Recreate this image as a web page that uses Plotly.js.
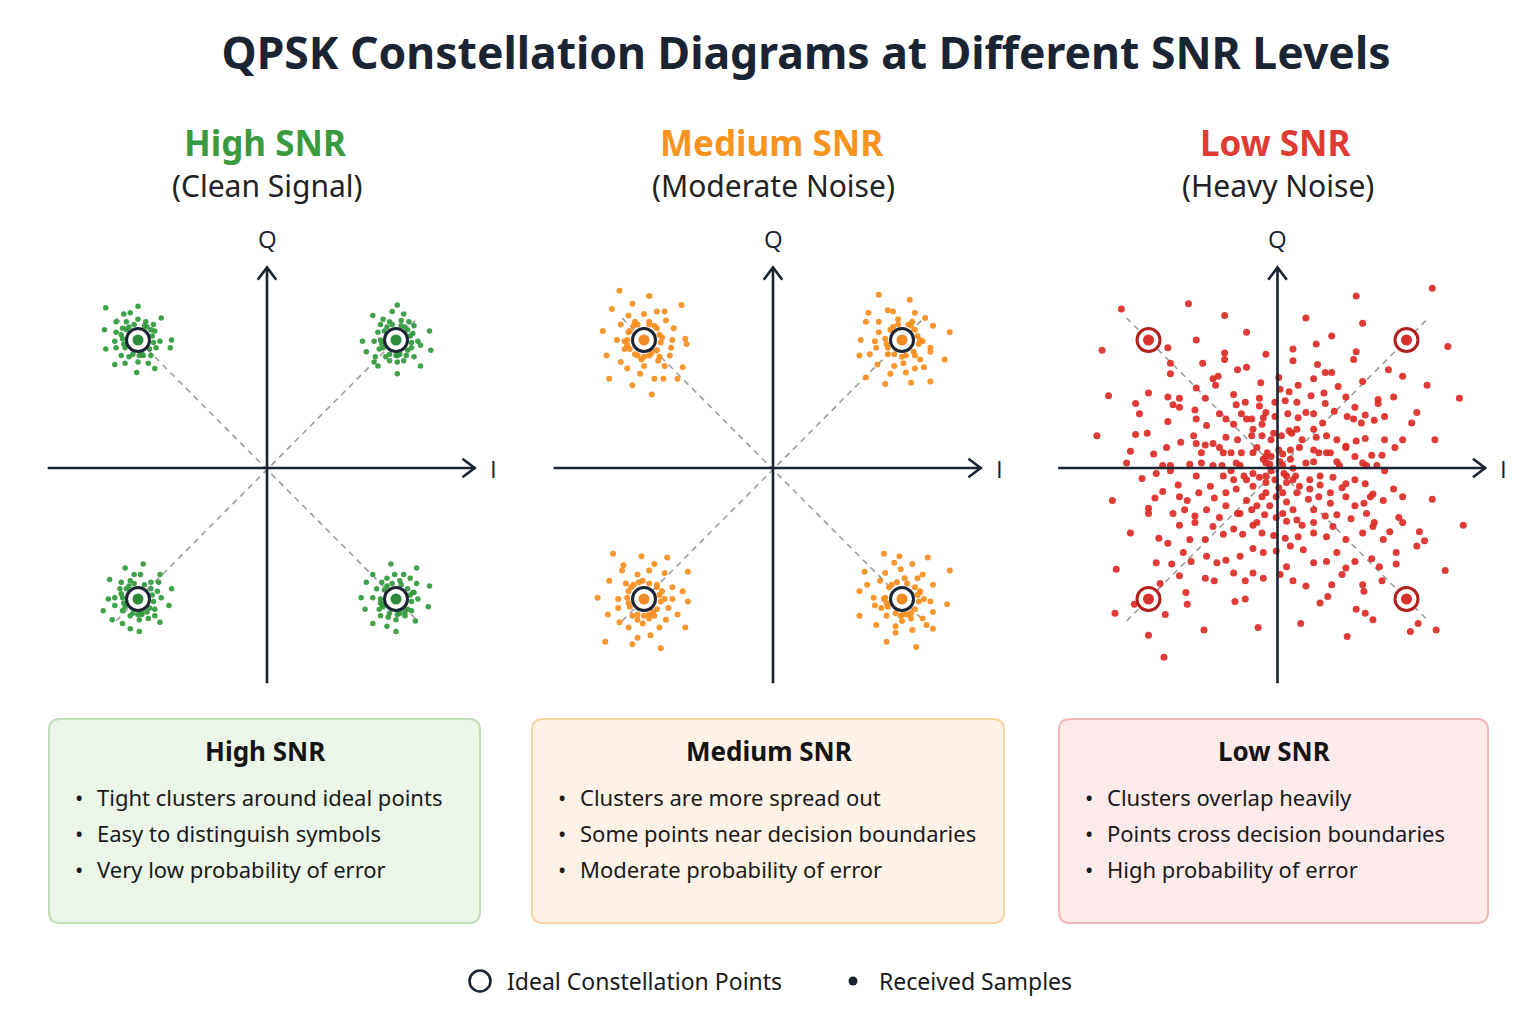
<!DOCTYPE html>
<html>
<head>
<meta charset="utf-8">
<script src="https://cdn.plot.ly/plotly-3.0.1.min.js"></script>
<style>html,body{margin:0;padding:0;background:#fff;}#chart{width:1536px;height:1024px;}</style>
</head>
<body>
<div id="chart"></div>
<script>
// ---------------- DATA ----------------
const idealI = [-1, 1, -1, 1];
const idealQ = [1, 1, -1, -1];

const panelTitles = ["High SNR", "Medium SNR", "Low SNR"];
const panelSubtitles = ["(Clean Signal)", "(Moderate Noise)", "(Heavy Noise)"];
const boxHeadings = ["High SNR", "Medium SNR", "Low SNR"];
const highNotes = ["Tight clusters around ideal points", "Easy to distinguish symbols", "Very low probability of error"];
const mediumNotes = ["Clusters are more spread out", "Some points near decision boundaries", "Moderate probability of error"];
const lowNotes = ["Clusters overlap heavily", "Points cross decision boundaries", "High probability of error"];
const legendLabels = ["Ideal Constellation Points", "Received Samples"];
const chartTitle = "QPSK Constellation Diagrams at Different SNR Levels";

// High SNR received samples (I, Q)
const highI = [
 -1.25,-1.00,-1.11,-1.06,-0.82,-1.17,-1.09,-1.00,-0.94,-0.88,-1.26,-1.17,-1.12,-0.87,-1.18,-0.83,-0.74,-1.25,-1.17,-0.86,-0.75,-1.13,-1.07,-0.96,-0.90,-1.18,-1.10,-1.00,-0.92,-1.01,-0.87,
 -0.89,-0.90,-0.95,-1.03,-1.09,-1.12,-1.10,-1.04,-0.97,-0.91,-0.88,-1.07,-0.93,-1.11,-0.99,-1.13,
 1.01,0.97,1.06,0.82,0.90,0.95,1.04,1.10,0.88,1.14,1.26,0.86,0.74,0.83,1.17,0.77,0.87,1.12,1.19,1.27,0.84,0.92,1.00,1.08,1.14,0.83,0.95,1.01,1.06,0.86,1.19,1.01,
 1.11,1.09,1.04,0.97,0.91,0.88,0.90,0.95,1.03,1.09,1.12,0.93,1.07,0.89,1.01,1.13,
 -0.96,-1.10,-1.03,-0.98,-0.83,-1.22,-1.13,-1.06,-0.90,-0.84,-1.14,-0.85,-0.74,-1.23,-1.18,-0.82,-1.18,-0.76,-1.27,-1.12,-0.87,-1.06,-0.97,-0.87,-1.20,-0.99,-0.92,-1.12,-0.83,-1.06,-0.99,
 -0.89,-0.90,-0.95,-1.03,-1.09,-1.12,-1.10,-1.04,-0.97,-0.91,-0.88,-1.07,-0.93,-1.11,-1.00,-1.13,
 0.96,1.16,0.82,0.99,1.06,0.93,1.11,0.77,0.89,1.03,1.16,1.26,0.85,1.14,0.73,0.82,1.17,0.88,0.76,0.87,1.25,1.12,0.88,0.94,1.00,1.07,1.15,0.82,0.93,1.00,
 1.11,1.09,1.04,0.97,0.91,0.88,0.90,0.95,1.03,1.09,1.12,0.93,1.07,0.89,1.01,1.13
];
const highQ = [
 1.25,1.26,1.20,1.21,1.17,1.14,1.14,1.16,1.14,1.12,1.08,1.06,1.09,1.07,0.99,0.99,1.00,0.93,0.94,0.94,0.94,0.88,0.87,0.88,0.88,0.81,0.82,0.83,0.82,0.75,0.78,
 1.03,1.08,1.11,1.12,1.08,1.01,0.94,0.89,0.89,0.93,0.98,1.10,1.10,0.97,0.88,1.04,
 1.27,1.22,1.20,1.19,1.16,1.14,1.15,1.14,1.12,1.11,1.07,1.06,0.99,0.99,0.99,0.91,0.93,0.94,0.96,0.92,0.87,0.87,0.88,0.88,0.87,0.83,0.84,0.83,0.84,0.80,0.80,0.74,
 1.03,1.08,1.11,1.12,1.07,1.00,0.94,0.89,0.89,0.92,0.98,1.10,1.10,0.97,0.88,1.05,
 -0.73,-0.76,-0.81,-0.81,-0.81,-0.85,-0.87,-0.86,-0.87,-0.87,-0.92,-0.94,-0.92,-1.00,-0.99,-0.99,-1.05,-1.05,-1.09,-1.09,-1.08,-1.13,-1.12,-1.13,-1.16,-1.16,-1.15,-1.19,-1.18,-1.23,-1.25,
 -0.97,-0.92,-0.89,-0.88,-0.92,-0.99,-1.06,-1.11,-1.11,-1.07,-1.02,-0.90,-1.10,-1.03,-1.12,-0.96,
 -0.73,-0.76,-0.81,-0.81,-0.81,-0.84,-0.84,-0.87,-0.87,-0.86,-0.88,-0.90,-0.92,-0.95,-0.99,-0.99,-1.00,-1.03,-1.08,-1.08,-1.06,-1.09,-1.13,-1.14,-1.16,-1.13,-1.17,-1.19,-1.21,-1.25,
 -0.97,-0.92,-0.89,-0.88,-0.93,-1.00,-1.06,-1.11,-1.11,-1.08,-1.02,-0.90,-1.10,-1.04,-1.12,-0.95
];

// Medium SNR received samples (I, Q)
const mediumI = [
 -1.19,-0.96,-0.71,-1.09,-1.25,-0.90,-0.84,-1.12,-1.00,-0.83,-1.07,-0.96,-1.18,-0.77,-1.32,-1.12,-0.68,-1.21,-0.78,-1.15,-0.67,-0.79,-1.15,-1.29,-1.07,-0.94,-0.88,-0.80,-1.18,-1.02,-0.89,-1.13,-1.00,-0.84,-0.70,-1.03,-0.92,-1.27,-0.85,-0.74,-1.09,-0.94,
 -0.88,-0.90,-0.96,-1.05,-1.11,-1.13,-1.11,-1.05,-0.96,-0.90,-0.87,-1.08,-0.92,-1.13,-1.00,-0.86,
 0.82,1.06,0.89,0.74,0.93,1.10,0.72,0.82,0.97,1.08,1.18,1.24,1.37,0.82,0.68,0.79,1.16,0.80,1.22,1.22,0.67,0.75,0.89,1.10,1.14,1.33,0.81,0.94,1.01,1.17,1.10,1.03,0.91,0.72,0.87,1.07,1.22,
 1.12,1.10,1.05,0.97,0.91,0.87,0.89,0.94,1.03,1.09,1.13,0.93,1.07,0.88,1.00,1.14,
 -1.24,-1.02,-0.82,-0.92,-1.16,-0.66,-1.17,-1.05,-0.96,-0.84,-1.27,-1.14,-1.01,-0.90,-0.78,-0.70,-1.36,-1.20,-1.12,-0.84,-0.78,-0.66,-1.20,-0.81,-1.28,-1.09,-0.92,-0.74,-1.19,-1.05,-0.96,-0.83,-1.12,-1.01,-0.88,-0.68,-0.95,-1.05,-1.30,-1.09,-0.87,
 -0.88,-0.90,-0.96,-1.04,-1.10,-1.13,-1.11,-1.05,-0.96,-0.90,-0.87,-1.08,-0.93,-1.12,-1.00,-0.86,
 0.86,0.98,1.20,0.94,1.08,1.37,0.71,0.87,0.99,1.16,0.83,1.02,1.12,1.24,0.73,0.67,1.14,0.78,0.86,1.17,1.22,1.35,0.79,0.84,1.24,0.67,0.88,1.01,1.07,1.16,0.80,0.95,1.08,1.19,1.24,0.95,0.88,1.11,1.00,
 1.12,1.10,1.04,0.96,0.90,0.87,0.89,0.95,1.04,1.10,1.13,0.92,1.07,0.88,0.99,1.14
];
const mediumQ = [
 1.38,1.34,1.27,1.28,1.24,1.22,1.22,1.19,1.20,1.15,1.14,1.14,1.12,1.09,1.07,1.06,1.01,1.00,1.00,0.99,0.97,0.94,0.93,0.88,0.89,0.90,0.87,0.88,0.83,0.85,0.84,0.78,0.80,0.80,0.79,0.74,0.70,0.70,0.70,0.70,0.65,0.58,
 1.04,1.09,1.12,1.12,1.07,1.00,0.93,0.88,0.88,0.92,0.98,1.11,1.11,0.96,0.87,1.02,
 1.35,1.31,1.23,1.21,1.22,1.21,1.14,1.14,1.16,1.14,1.17,1.11,1.06,1.06,1.00,0.99,0.99,0.94,0.94,0.91,0.88,0.89,0.89,0.88,0.85,0.85,0.81,0.80,0.82,0.79,0.78,0.75,0.74,0.71,0.66,0.67,0.68,
 1.03,1.08,1.12,1.12,1.08,1.01,0.94,0.89,0.88,0.91,0.97,1.10,1.11,0.97,0.87,1.00,
 -0.65,-0.67,-0.68,-0.73,-0.74,-0.79,-0.78,-0.81,-0.78,-0.80,-0.86,-0.88,-0.86,-0.89,-0.91,-0.94,-0.99,-1.00,-0.94,-1.00,-1.00,-1.02,-1.07,-1.07,-1.12,-1.13,-1.13,-1.12,-1.18,-1.16,-1.15,-1.16,-1.22,-1.19,-1.22,-1.22,-1.28,-1.30,-1.33,-1.35,-1.38,
 -0.97,-0.91,-0.88,-0.87,-0.91,-0.99,-1.06,-1.12,-1.12,-1.08,-1.02,-0.89,-1.10,-1.03,-1.13,-0.94,
 -0.65,-0.67,-0.68,-0.72,-0.73,-0.78,-0.79,-0.80,-0.77,-0.81,-0.86,-0.84,-0.84,-0.89,-0.89,-0.94,-0.94,-0.99,-1.00,-1.00,-1.02,-1.04,-1.05,-1.07,-1.10,-1.13,-1.13,-1.12,-1.15,-1.15,-1.20,-1.21,-1.24,-1.20,-1.23,-1.26,-1.33,-1.37,-1.17,
 -0.97,-0.91,-0.88,-0.87,-0.91,-0.99,-1.06,-1.11,-1.12,-1.08,-1.02,-0.89,-1.11,-1.03,-1.13,-0.95
];

// Low SNR received samples (I, Q)
const lowI = [
 1.20,0.61,-1.21,-0.69,-0.41,0.22,0.66,-0.24,0.42,-0.63,
 0.30,-1.36,-0.85,1.32,-0.09,0.12,0.61,-0.41,-0.41,-0.83,
 -0.58,0.31,0.12,-0.31,-0.24,0.86,0.42,0.59,0.37,-0.83,
 0.01,0.97,-0.46,-0.50,-0.13,-0.48,1.16,0.66,0.47,0.16,
 0.09,-1.00,-1.31,-0.63,-0.85,-0.76,-0.34,-0.14,0.26,0.36,
 0.53,0.78,0.90,1.41,-1.10,-0.81,-0.76,-0.56,-0.32,-0.25,
 -0.02,0.15,0.06,0.37,0.60,0.78,-1.07,-0.64,-0.45,-0.28,
 -0.14,0.08,0.28,0.44,0.54,0.68,0.83,1.08,-0.85,-0.63,
 -0.34,-0.20,-0.11,-0.02,0.16,0.35,0.65,0.75,1.04,-1.10,
 -1.01,-1.40,-0.75,-0.63,-0.56,-0.50,-0.40,-0.31,-0.19,-0.12,
 -0.03,0.11,0.19,0.30,0.38,0.46,0.53,0.61,0.68,0.83,
 0.97,1.22,-1.14,-0.96,-0.86,-0.59,-0.45,-0.36,-0.28,-0.16,
 -0.08,0.10,0.17,0.28,0.32,0.41,0.53,0.60,0.73,0.81,0.91,
 -1.17,-0.83,-0.83,-0.68,-0.59,-0.43,-0.29,-0.19,-0.06,
 0.04,0.12,0.22,0.28,0.46,0.66,0.77,0.83,-1.05,-0.94,
 -0.63,-0.42,-0.34,-0.26,-0.09,0.07,0.14,0.25,0.33,0.43,
 0.53,0.60,0.68,0.90,0.97,1.20,-1.28,-0.95,-1.00,-0.89,
 -0.77,-0.70,-0.61,-0.49,-0.40,-0.32,-0.24,-0.16,-0.09,-0.01,
 0.04,0.07,0.15,0.24,0.32,0.41,0.50,0.53,0.60,0.67,
 0.74,0.82,-1.00,-0.81,-0.72,-0.64,-0.55,-0.45,-0.31,-0.20,
 -0.10,-0.01,0.07,0.19,0.28,0.37,0.46,0.57,0.69,0.75,0.94,0.97,
 -1.14,-0.92,-0.85,-0.76,-0.64,-0.56,-0.50,-0.42,-0.34,-0.27,
 -0.19,-0.12,-0.03,0.06,0.16,0.28,0.38,0.43,0.53,0.66,
 0.74,0.82,0.87,1.10,1.14,
 -1.25,-0.94,-0.82,-0.73,-0.67,-0.55,-0.47,-0.40,-0.29,-0.19,
 -0.11,-0.01,0.10,0.20,0.28,0.38,0.46,0.53,0.60,0.73,
 0.79,0.92,0.92,1.08,1.30,
 -1.11,-1.26,-0.91,-0.76,-0.71,-0.70,-0.56,-0.49,-0.33,-0.25,
 -0.25,-0.11,-0.19,0.02,0.12,0.22,0.33,0.39,0.42,0.50,
 0.66,0.67,0.81,0.61,0.68,0.74,1.09,1.23,1.03,0.54,
 0.18,-0.15,-0.57,-0.87,-1.00,-0.88,1.44,
 -0.09,-0.05,0.02,0.05,-0.02,-0.09,0.07,0.01,-0.14,0.12,-0.05,0.04,-0.11,0.10,
 -0.20,-0.12,-0.05,0.03,0.09,0.15,-0.32,-0.36,-0.24,-0.19,
 -0.12,-0.06,0.04,0.12,0.17,0.25,0.33,-0.09,0.01,-0.19,
 -0.42,-0.50,-0.52,-0.40,-0.29,-0.16,0.15,0.28,0.41,0.48,
 0.38,0.28,0.22,-0.09,-0.24,-0.40,-0.55,-0.65,0.02,0.28,
 0.59,0.69,0.72,-0.76,-0.89,-0.68,0.07,-0.34
];
const lowQ = [
 1.40,1.34,1.24,1.28,1.19,1.17,1.13,1.06,1.03,1.00,
 0.97,0.92,0.94,0.95,0.89,0.93,0.91,0.90,0.85,0.82,
 0.82,0.81,0.84,0.77,0.79,0.77,0.75,0.85,0.75,0.74,
 0.71,0.72,0.72,0.70,0.67,0.65,0.65,0.68,0.64,0.65,
 0.60,0.59,0.57,0.63,0.56,0.55,0.58,0.55,0.57,0.59,
 0.56,0.54,0.56,0.55,0.51,0.50,0.48,0.55,0.50,0.52,
 0.52,0.52,0.53,0.51,0.48,0.51,0.43,0.46,0.43,0.43,
 0.49,0.43,0.43,0.45,0.41,0.42,0.41,0.44,0.37,0.39,
 0.35,0.39,0.40,0.41,0.40,0.36,0.36,0.38,0.36,0.27,
 0.28,0.26,0.21,0.20,0.19,0.20,0.25,0.23,0.31,0.26,
 0.28,0.28,0.23,0.25,0.26,0.23,0.18,0.22,0.24,0.23,
 0.23,0.23,0.14,0.12,0.17,0.13,0.17,0.13,0.13,0.17,
 0.13,0.15,0.17,0.15,0.13,0.13,0.17,0.10,0.11,0.11,0.17,
 0.05,0.03,-0.01,0.04,0.05,0.03,0.03,-0.03,0.04,
 0.03,0.01,0.05,0.06,0.06,0.05,0.03,-0.01,-0.07,-0.03,
 -0.05,-0.05,-0.08,-0.05,-0.05,-0.05,-0.05,-0.08,-0.12,-0.06,
 -0.11,-0.08,-0.11,-0.15,-0.21,-0.23,-0.24,-0.22,-0.30,-0.17,
 -0.12,-0.24,-0.18,-0.22,-0.28,-0.15,-0.24,-0.28,-0.18,-0.21,
 -0.18,-0.25,-0.18,-0.23,-0.21,-0.18,-0.14,-0.21,-0.28,-0.26,
 -0.19,-0.24,-0.34,-0.34,-0.31,-0.36,-0.31,-0.37,-0.34,-0.31,
 -0.35,-0.37,-0.40,-0.43,-0.41,-0.36,-0.35,-0.38,-0.34,-0.41,-0.37,-0.41,
 -0.49,-0.53,-0.57,-0.43,-0.41,-0.54,-0.44,-0.50,-0.46,-0.50,
 -0.43,-0.49,-0.51,-0.53,-0.52,-0.49,-0.52,-0.44,-0.54,-0.49,
 -0.44,-0.54,-0.48,-0.48,-0.55,
 -0.77,-0.72,-0.73,-0.64,-0.71,-0.67,-0.72,-0.70,-0.67,-0.61,
 -0.64,-0.63,-0.59,-0.62,-0.72,-0.71,-0.64,-0.76,-0.71,-0.69,
 -0.75,-0.64,-0.73,-0.59,-0.78,
 -1.04,-1.11,-0.88,-0.82,-0.95,-1.04,-0.84,-0.86,-1.02,-1.00,
 -0.86,-0.84,-0.80,-0.81,-0.86,-0.90,-1.03,-0.98,-0.89,-0.81,
 -0.89,-0.94,-0.86,-1.08,-1.11,-1.16,-1.19,-1.24,-1.25,-1.29,
 -1.19,-1.22,-1.24,-1.12,-1.28,-1.45,-0.43,
 0.05,-0.01,0.06,-0.03,-0.08,-0.10,-0.10,-0.14,-0.06,-0.08,0.10,0.12,0.08,0.08,
 0.26,0.35,0.23,0.26,0.30,0.31,0.05,-0.01,-0.08,-0.13,
 -0.21,-0.28,-0.34,-0.31,-0.13,-0.15,-0.05,0.10,0.15,0.13,
 0.13,0.03,-0.13,-0.18,-0.34,-0.41,-0.39,-0.31,-0.26,0.03,
 0.13,0.31,0.44,0.44,0.39,0.39,0.34,0.26,0.62,0.70,
 0.39,0.03,-0.21,-0.21,0.03,-0.54,-0.75,-0.80
];

// ---------------- LAYOUT / STYLE ----------------
const W = 1536, H = 1024;
const FONT = "Noto Sans, Open Sans, sans-serif";
const DARK = "#1b2433";
const PX = v => v / W;
const PY = v => 1 - v / H;

const panels = [
  {I: highI, Q: highQ, cx: 267, color: "#2f9a3b", dot: "#2e8b3a", ring: DARK, title: "#3a9a3f",
   boxFill: "#ebf5e8", boxLine: "#bfdfb6", bx0: 49, bx1: 480, notes: highNotes, size: 5.5},
  {I: mediumI, Q: mediumQ, cx: 773, color: "#f78e1e", dot: "#f08a24", ring: DARK, title: "#f7941d",
   boxFill: "#fef3e6", boxLine: "#f8d3a4", bx0: 532, bx1: 1004, notes: mediumNotes, size: 6},
  {I: lowI, Q: lowQ, cx: 1277.5, color: "#dc2b26", dot: "#d8302c", ring: "#b3201e", title: "#e03b33",
   boxFill: "#fdeaea", boxLine: "#f2b8b8", bx0: 1059, bx1: 1488, notes: lowNotes, size: 7}
];
const CY = 469.5, SX = 129, SY = 129.5, HALFW = 235, TOP = 215, BOT = 705;
const AXIS_Y = 468;

const data = [];
const shapes = [];
const annotations = [];
const layout = {
  width: W, height: H,
  margin: {l: 0, r: 0, t: 0, b: 0},
  paper_bgcolor: "#ffffff",
  plot_bgcolor: "rgba(0,0,0,0)",
  showlegend: false,
  font: {family: FONT, color: DARK},
  title: {text: "<b>" + chartTitle + "</b>", x: 806 / W, xanchor: "center", y: PY(53), yanchor: "middle",
          font: {family: FONT, size: 44.5, color: DARK}}
};

function rrect(x0, y0, x1, y1, r) {
  const X = PX, Y = PY;
  return `M${X(x0 + r)},${Y(y0)} L${X(x1 - r)},${Y(y0)} Q${X(x1)},${Y(y0)} ${X(x1)},${Y(y0 + r)} ` +
         `L${X(x1)},${Y(y1 - r)} Q${X(x1)},${Y(y1)} ${X(x1 - r)},${Y(y1)} L${X(x0 + r)},${Y(y1)} ` +
         `Q${X(x0)},${Y(y1)} ${X(x0)},${Y(y1 - r)} L${X(x0)},${Y(y0 + r)} Q${X(x0)},${Y(y0)} ${X(x0 + r)},${Y(y0)} Z`;
}

panels.forEach((p, i) => {
  const xa = "x" + (i ? i + 1 : ""), ya = "y" + (i ? i + 1 : "");
  const xk = "xaxis" + (i ? i + 1 : ""), yk = "yaxis" + (i ? i + 1 : "");
  layout[xk] = {domain: [PX(p.cx - HALFW), PX(p.cx + HALFW)], range: [-HALFW / SX, HALFW / SX],
                visible: false, fixedrange: true, anchor: ya};
  layout[yk] = {domain: [PY(BOT), PY(TOP)], range: [-(BOT - CY) / SY, (CY - TOP) / SY],
                visible: false, fixedrange: true, anchor: xa};

  // diagonal dashed decision guides
  const d = 1.17;
  shapes.push({type: "line", xref: xa, yref: ya, x0: -d, y0: -d, x1: d, y1: d, layer: "below",
               line: {color: "#9c9c9c", width: 1.6, dash: "6px,5px"}});
  shapes.push({type: "line", xref: xa, yref: ya, x0: -d, y0: d, x1: d, y1: -d, layer: "below",
               line: {color: "#9c9c9c", width: 1.6, dash: "6px,5px"}});

  // samples
  data.push({type: "scatter", mode: "markers", x: p.I, y: p.Q, xaxis: xa, yaxis: ya, hoverinfo: "skip",
             marker: {size: p.size, color: p.color, opacity: 0.92, line: {width: 0}}});
  // ideal points: ring + inner dot
  data.push({type: "scatter", mode: "markers", x: idealI, y: idealQ, xaxis: xa, yaxis: ya, hoverinfo: "skip",
             marker: {size: 23, color: "#ffffff", line: {color: p.ring, width: 3}}});
  data.push({type: "scatter", mode: "markers", x: idealI, y: idealQ, xaxis: xa, yaxis: ya, hoverinfo: "skip",
             marker: {size: 11, color: p.dot, line: {width: 0}}});

  // axes with chevron heads
  const xr = 1.61, xl = -1.70, yt = 1.56, yb = -1.65, y0 = (CY - AXIS_Y) / SY;
  const ax = {color: DARK, width: 2.6};
  shapes.push({type: "line", xref: xa, yref: ya, x0: xl, y0: y0, x1: xr, y1: y0, layer: "above", line: ax});
  shapes.push({type: "line", xref: xa, yref: ya, x0: 0, y0: yb, x1: 0, y1: yt, layer: "above", line: ax});
  shapes.push({type: "path", xref: xa, yref: ya, layer: "above", line: ax,
               path: `M${xr - 0.095},${y0 + 0.072} L${xr},${y0} L${xr - 0.095},${y0 - 0.072}`});
  shapes.push({type: "path", xref: xa, yref: ya, layer: "above", line: ax,
               path: `M${-0.072},${yt - 0.095} L0,${yt} L${0.072},${yt - 0.095}`});
  annotations.push({xref: xa, yref: ya, x: 1.755, y: y0, text: "I", showarrow: false,
                    font: {size: 24, color: DARK, family: "Open Sans, sans-serif"}, xanchor: "center", yanchor: "middle"});
  annotations.push({xref: xa, yref: ya, x: 0, y: 1.78, text: "Q", showarrow: false,
                    font: {size: 24, color: DARK, family: "Open Sans, sans-serif"}, xanchor: "center", yanchor: "middle"});

  // panel titles
  annotations.push({xref: "paper", yref: "paper", x: PX(p.cx - 2), y: PY(142), text: "<b>" + panelTitles[i] + "</b>",
                    showarrow: false, font: {size: 35, color: p.title, family: FONT}, xanchor: "center", yanchor: "middle"});
  annotations.push({xref: "paper", yref: "paper", x: PX(p.cx), y: PY(185), text: panelSubtitles[i],
                    showarrow: false, font: {size: 30, color: "#222222", family: FONT}, xanchor: "center", yanchor: "middle"});

  // info boxes
  shapes.push({type: "path", xref: "paper", yref: "paper", layer: "below", path: rrect(p.bx0, 719, p.bx1, 923, 11),
               fillcolor: p.boxFill, line: {color: p.boxLine, width: 2}});
  const bc = (p.bx0 + p.bx1) / 2;
  annotations.push({xref: "paper", yref: "paper", x: PX(bc + 1), y: PY(751), text: "<b>" + boxHeadings[i] + "</b>",
                    showarrow: false, font: {size: 26, color: "#141414", family: FONT}, xanchor: "center", yanchor: "middle"});
  p.notes.forEach((t, k) => {
    const yy = 797 + 36 * k;
    annotations.push({xref: "paper", yref: "paper", x: PX(p.bx0 + 30), y: PY(yy), text: "•", showarrow: false,
                      font: {size: 22, color: "#1a1a1a", family: FONT}, xanchor: "center", yanchor: "middle"});
    annotations.push({xref: "paper", yref: "paper", x: PX(p.bx0 + 46), y: PY(yy), text: t, showarrow: false,
                      font: {size: 22, color: "#1a1a1a", family: FONT}, xanchor: "left", yanchor: "middle"});
  });
});

// legend (drawn manually)
shapes.push({type: "circle", xref: "paper", yref: "paper", x0: PX(469.5), x1: PX(490.5), y0: PY(991.5), y1: PY(970.5),
             line: {color: DARK, width: 2.6}, fillcolor: "#ffffff"});
shapes.push({type: "circle", xref: "paper", yref: "paper", x0: PX(848.5), x1: PX(857.5), y0: PY(985.5), y1: PY(976.5),
             line: {width: 0}, fillcolor: DARK});
annotations.push({xref: "paper", yref: "paper", x: PX(505), y: PY(981), text: legendLabels[0], showarrow: false,
                  font: {size: 23, color: "#1a1a1a", family: FONT}, xanchor: "left", yanchor: "middle"});
annotations.push({xref: "paper", yref: "paper", x: PX(877), y: PY(981), text: legendLabels[1], showarrow: false,
                  font: {size: 23, color: "#1a1a1a", family: FONT}, xanchor: "left", yanchor: "middle"});

layout.shapes = shapes;
layout.annotations = annotations;

Plotly.newPlot("chart", data, layout, {displayModeBar: false, staticPlot: true});
</script>
</body>
</html>
